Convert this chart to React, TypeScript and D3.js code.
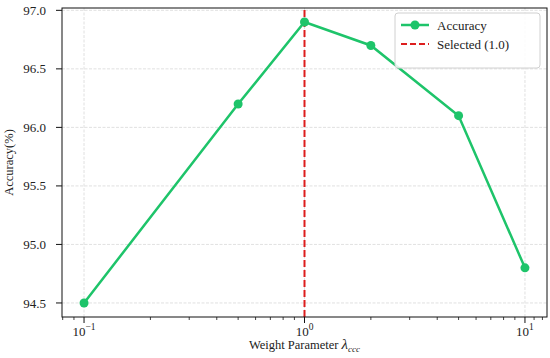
import React, { useEffect, useRef } from "react";
import * as d3 from "d3";

const lambdas = [0.1, 0.5, 1, 2, 5, 10];
const accuracy = [94.5, 96.2, 96.9, 96.7, 96.1, 94.8];
const yTicks = [94.5, 95.0, 95.5, 96.0, 96.5, 97.0];
const xTicks = [0.1, 1, 10];
const xTickExp = ["−1", "0", "1"];
const selected = 1.0;

const green = "#1ec46a";
const red = "#dd1e1e";
const font = "'Liberation Serif', 'Times New Roman', serif";

const App = () => {
  const svgRef = useRef<SVGSVGElement | null>(null);

  useEffect(() => {
    const width = 550;
    const height = 358;
    const m = { left: 62, right: 3, top: 8, bottom: 41 };

    const svg = d3.select(svgRef.current);
    svg.selectAll("*").remove();
    svg.attr("width", width).attr("height", height);

    svg.append("rect").attr("width", width).attr("height", height).attr("fill", "#fff");

    const x = d3
      .scaleLog()
      .domain([Math.pow(10, -1.1), Math.pow(10, 1.1)])
      .range([m.left, width - m.right]);
    const y = d3
      .scaleLinear()
      .domain([94.38, 97.02])
      .range([height - m.bottom, m.top]);

    const [x0, x1] = x.range();
    const [y0, y1] = y.range();

    // grid
    const grid = svg.append("g");
    grid
      .selectAll(".gy")
      .data(yTicks)
      .enter()
      .append("line")
      .attr("x1", x0)
      .attr("x2", x1)
      .attr("y1", (d) => y(d))
      .attr("y2", (d) => y(d))
      .attr("stroke", "#d8d8d8")
      .attr("stroke-width", 0.8)
      .attr("stroke-dasharray", "3,1.5");
    grid
      .selectAll(".gx")
      .data(xTicks)
      .enter()
      .append("line")
      .attr("x1", (d) => x(d))
      .attr("x2", (d) => x(d))
      .attr("y1", y0)
      .attr("y2", y1)
      .attr("stroke", "#d8d8d8")
      .attr("stroke-width", 0.8)
      .attr("stroke-dasharray", "3,1.5");

    // selected line
    svg
      .append("line")
      .attr("x1", x(selected))
      .attr("x2", x(selected))
      .attr("y1", y0)
      .attr("y2", y1)
      .attr("stroke", red)
      .attr("stroke-width", 2)
      .attr("stroke-dasharray", "7,3");

    // accuracy line
    const line = d3
      .line<number>()
      .x((_, i) => x(lambdas[i]))
      .y((d) => y(d));
    svg
      .append("path")
      .datum(accuracy)
      .attr("d", line)
      .attr("fill", "none")
      .attr("stroke", green)
      .attr("stroke-width", 2.5);
    svg
      .selectAll(".pt")
      .data(accuracy)
      .enter()
      .append("circle")
      .attr("cx", (_, i) => x(lambdas[i]))
      .attr("cy", (d) => y(d))
      .attr("r", 4.5)
      .attr("fill", green);

    // spines
    svg
      .append("rect")
      .attr("x", x0)
      .attr("y", y1)
      .attr("width", x1 - x0)
      .attr("height", y0 - y1)
      .attr("fill", "none")
      .attr("stroke", "#111")
      .attr("stroke-width", 1);

    // y ticks
    const yt = svg.append("g");
    yTicks.forEach((t) => {
      yt.append("line")
        .attr("x1", x0 - 6)
        .attr("x2", x0)
        .attr("y1", y(t))
        .attr("y2", y(t))
        .attr("stroke", "#111");
      yt.append("text")
        .attr("x", x0 - 16)
        .attr("y", y(t))
        .attr("dy", "0.35em")
        .attr("text-anchor", "end")
        .attr("font-family", font)
        .attr("font-size", 13)
        .attr("fill", "#222")
        .text(t.toFixed(1));
    });

    // x ticks (major + minor)
    const xt = svg.append("g");
    const minors: number[] = [];
    [0.1, 1].forEach((dec) => {
      for (let k = 2; k <= 9; k++) minors.push(dec * k);
    });
    minors.push(0.09, 0.08, 11, 12);
    minors
      .filter((v) => x(v) >= x0 && x(v) <= x1)
      .forEach((v) => {
        xt.append("line")
          .attr("x1", x(v))
          .attr("x2", x(v))
          .attr("y1", y0)
          .attr("y2", y0 + 3)
          .attr("stroke", "#111")
          .attr("stroke-width", 0.8);
      });
    xTicks.forEach((t, i) => {
      xt.append("line")
        .attr("x1", x(t))
        .attr("x2", x(t))
        .attr("y1", y0)
        .attr("y2", y0 + 6)
        .attr("stroke", "#111");
      const tx = xt
        .append("text")
        .attr("x", x(t))
        .attr("y", y0 + 19)
        .attr("text-anchor", "middle")
        .attr("font-family", font)
        .attr("font-size", 13)
        .attr("fill", "#222");
      tx.append("tspan").text("10");
      tx.append("tspan")
        .attr("dy", -6)
        .attr("font-size", 9.5)
        .text(xTickExp[i]);
    });

    // axis labels
    const xl = svg
      .append("text")
      .attr("x", x(1))
      .attr("y", height - 9)
      .attr("text-anchor", "middle")
      .attr("font-family", font)
      .attr("font-size", 12.5)
      .attr("fill", "#222");
    xl.append("tspan").text("Weight Parameter ");
    xl.append("tspan").attr("font-style", "italic").attr("font-size", 15).text("λ");
    xl.append("tspan")
      .attr("font-style", "italic")
      .attr("font-size", 9)
      .attr("dy", 3)
      .text("ccc");

    svg
      .append("text")
      .attr("transform", `translate(13,${(y0 + y1) / 2}) rotate(-90)`)
      .attr("text-anchor", "middle")
      .attr("font-family", font)
      .attr("font-size", 12.5)
      .attr("fill", "#222")
      .text("Accuracy(%)");

    // legend
    const lg = svg.append("g").attr("transform", "translate(395,13)");
    lg.append("rect")
      .attr("width", 145)
      .attr("height", 55)
      .attr("rx", 3)
      .attr("fill", "#fff")
      .attr("fill-opacity", 0.85)
      .attr("stroke", "#d0d0d0");
    lg.append("line")
      .attr("x1", 6)
      .attr("x2", 34)
      .attr("y1", 12)
      .attr("y2", 12)
      .attr("stroke", green)
      .attr("stroke-width", 2.5);
    lg.append("circle").attr("cx", 20).attr("cy", 12).attr("r", 4.5).attr("fill", green);
    lg.append("line")
      .attr("x1", 6)
      .attr("x2", 34)
      .attr("y1", 31)
      .attr("y2", 31)
      .attr("stroke", red)
      .attr("stroke-width", 2)
      .attr("stroke-dasharray", "6,3");
    lg.append("text")
      .attr("x", 42)
      .attr("y", 12)
      .attr("dy", "0.35em")
      .attr("font-family", font)
      .attr("font-size", 13)
      .attr("fill", "#222")
      .text("Accuracy");
    lg.append("text")
      .attr("x", 42)
      .attr("y", 31)
      .attr("dy", "0.35em")
      .attr("font-family", font)
      .attr("font-size", 13)
      .attr("fill", "#222")
      .text(`Selected (${selected.toFixed(1)})`);
  }, []);

  return <svg ref={svgRef} style={{ position: "absolute", left: 0, top: 0 }}></svg>;
};

export default App;
